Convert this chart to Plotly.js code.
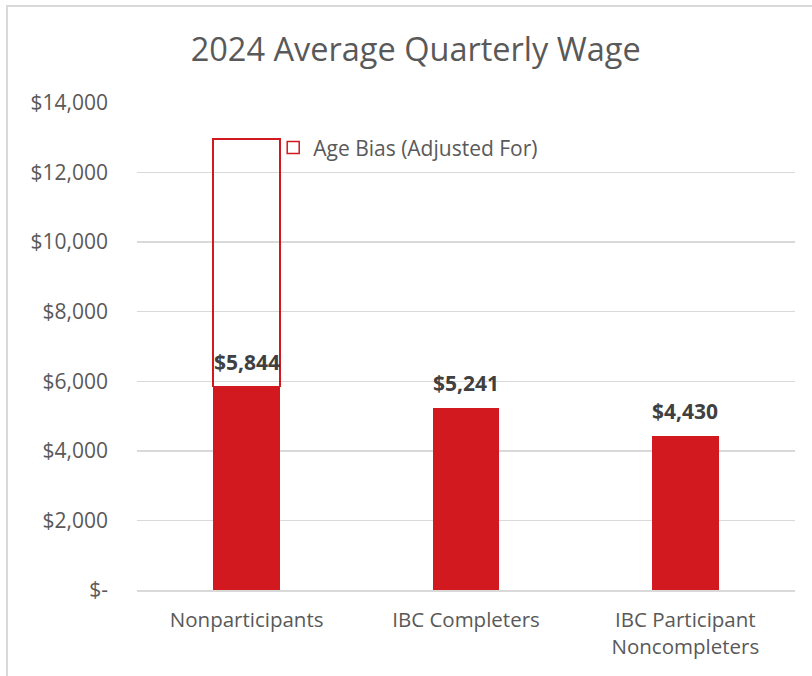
<!DOCTYPE html>
<html>
<head>
<meta charset="utf-8">
<script src="https://cdn.plot.ly/plotly-3.0.1.min.js"></script>
<style>
  html, body { margin: 0; padding: 0; background: #fff; }
  #wrap { position: relative; width: 812px; height: 676px; }
  #chart { width: 812px; height: 676px; }
  #frame { position: absolute; left: 6px; top: 5px; width: 820px; height: 700px;
           border-left: 2px solid #d9d9d9; border-top: 2px solid #d9d9d9; pointer-events: none; }
</style>
</head>
<body>
<div id="wrap">
  <div id="chart"></div>
  <div id="frame"></div>
</div>
<script>
const categories = ["Nonparticipants", "IBC Completers", "IBC Participant<br>Noncompleters"];
const wages = [5844, 5241, 4430];
const wageLabels = ["$5,844", "$5,241", "$4,430"];
const ageBias = [7120, null, null];
const ageBiasName = "Age Bias (Adjusted For)";
const tickVals = [0, 2000, 4000, 6000, 8000, 10000, 12000, 14000];
const tickText = ["$-", "$2,000", "$4,000", "$6,000", "$8,000", "$10,000", "$12,000", "$14,000"];

const RED = "#D1191F";
const FONT = "'Open Sans', 'Liberation Sans', sans-serif";

const traces = [
  {
    type: "bar", x: categories, y: wages, name: "Average Quarterly Wage",
    marker: { color: RED, line: { width: 0 } }, showlegend: false, hoverinfo: "skip"
  },
  {
    type: "bar", x: categories, y: ageBias, name: ageBiasName,
    marker: { color: "rgba(255,255,255,0)", line: { color: RED, width: 1.5 } },
    showlegend: true, hoverinfo: "skip"
  }
];

const annotations = categories.map((c, i) => ({
  x: c, y: wages[i], xref: "x", yref: "y",
  text: "<b>" + wageLabels[i] + "</b>", showarrow: false,
  yanchor: "bottom", yshift: 9,
  font: { family: FONT, size: 21, color: "#404040" }
}));

const layout = {
  width: 812, height: 676,
  margin: { l: 137, r: 17, t: 103, b: 86 },
  paper_bgcolor: "#ffffff", plot_bgcolor: "#ffffff",
  barmode: "stack", bargap: 0.695,
  title: {
    text: "2024 Average Quarterly Wage",
    x: 0.512, xref: "container", xanchor: "center",
    y: 0.926, yref: "container", yanchor: "middle",
    font: { family: FONT, size: 32.5, color: "#595959" }
  },
  xaxis: {
    type: "category", showgrid: false, zeroline: false,
    showline: true, linecolor: "#d9d9d9", linewidth: 1.5,
    ticks: "", ticklabelstandoff: 11,
    tickfont: { family: FONT, size: 20.5, color: "#595959" }
  },
  yaxis: {
    range: [0, 14000], tickvals: tickVals, ticktext: tickText,
    showgrid: true, gridcolor: "#d9d9d9", gridwidth: 1.5,
    zeroline: false, showline: false, ticks: "",
    ticklabelstandoff: 28,
    tickfont: { family: FONT, size: 21, color: "#595959" }
  },
  showlegend: true,
  legend: {
    x: 0.207, y: 0.908, xref: "paper", yref: "paper",
    xanchor: "left", yanchor: "middle",
    bgcolor: "rgba(255,255,255,0)", borderwidth: 0,
    font: { family: FONT, size: 21, color: "#595959" },
    itemwidth: 30
  },
  annotations: annotations
};

Plotly.newPlot("chart", traces, layout, { displayModeBar: false, staticPlot: true });
</script>
</body>
</html>
